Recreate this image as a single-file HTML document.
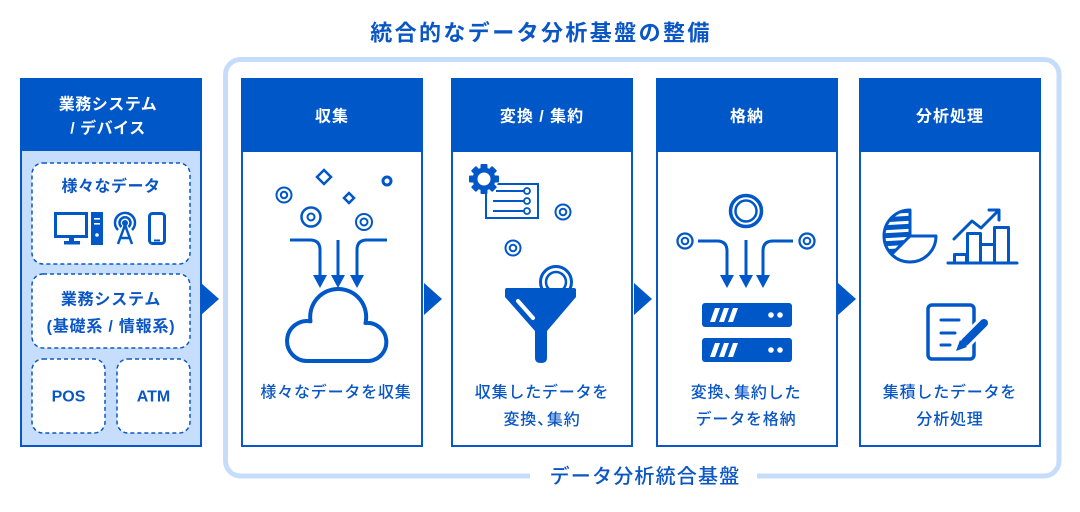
<!DOCTYPE html>
<html><head><meta charset="utf-8"><style>
html,body{margin:0;padding:0;background:#fff;}
svg{display:block;}
text{font-family:"Liberation Sans","Noto Sans CJK JP",sans-serif;}
</style></head><body>
<svg width="1080" height="512" viewBox="0 0 1080 512" xmlns="http://www.w3.org/2000/svg">
<defs>
<clipPath id="pieclip"><path d="M910,236 L910,210 A26,26 0 0 0 891.6,254.4 Z"/></clipPath>
</defs>
<rect width="1080" height="512" fill="#fff"/>

<!-- Title -->
<text x="541" y="33" text-anchor="middle" dominant-baseline="central" font-size="22" font-weight="bold" fill="#0a56c4" letter-spacing="2.4">統合的なデータ分析基盤の整備</text>

<!-- Outer light border -->
<rect x="225.5" y="59.5" width="833.5" height="416.5" rx="15" fill="none" stroke="#c5ddfb" stroke-width="5"/>
<rect x="530" y="468" width="227" height="16" fill="#fff"/>
<text x="645" y="477" text-anchor="middle" dominant-baseline="central" font-size="20" font-weight="500" fill="#0a56c4" letter-spacing="1.2">データ分析統合基盤</text>

<!-- Left panel -->
<rect x="21" y="79" width="180" height="367" fill="#c6ddfb" stroke="#0a58c8" stroke-width="2"/>
<rect x="20" y="78" width="182" height="73" fill="#0057c8"/>
<text x="108" y="105" text-anchor="middle" dominant-baseline="central" font-size="16" font-weight="bold" fill="#fff" letter-spacing="0.5">業務システム</text>
<text x="108" y="129" text-anchor="middle" dominant-baseline="central" font-size="16" font-weight="bold" fill="#fff" letter-spacing="0.5">/ デバイス</text>

<g fill="#fff" stroke="#0a58c8" stroke-width="1.5" stroke-dasharray="4 3">
<rect x="32" y="163" width="158" height="101" rx="11"/>
<rect x="32" y="274" width="158" height="74" rx="11"/>
<rect x="32" y="359" width="73" height="74" rx="11"/>
<rect x="117" y="359" width="73" height="74" rx="11"/>
</g>
<text x="111" y="187" text-anchor="middle" dominant-baseline="central" font-size="16" font-weight="bold" fill="#0a56c4" letter-spacing="0.5">様々なデータ</text>
<text x="111" y="300" text-anchor="middle" dominant-baseline="central" font-size="16" font-weight="bold" fill="#0a56c4" letter-spacing="0.8">業務システム</text>
<text x="111" y="327" text-anchor="middle" dominant-baseline="central" font-size="16" font-weight="bold" fill="#0a56c4" letter-spacing="0.8">(基礎系 / 情報系)</text>
<text x="68.5" y="397" text-anchor="middle" dominant-baseline="central" font-size="16" font-weight="bold" fill="#0a56c4">POS</text>
<text x="153.5" y="397" text-anchor="middle" dominant-baseline="central" font-size="16" font-weight="bold" fill="#0a56c4">ATM</text>

<!-- left icons -->
<g fill="none" stroke="#0057c8" stroke-width="3">
<rect x="55.5" y="213.5" width="31" height="23"/>
<rect x="149.5" y="213.5" width="15" height="30" rx="3"/>
</g>
<rect x="69" y="237" width="5" height="5" fill="#0057c8"/>
<rect x="64" y="241" width="16" height="3.5" fill="#0057c8"/>
<rect x="91" y="212" width="12" height="33" fill="#0057c8"/>
<rect x="94" y="218" width="6" height="1.6" fill="#fff"/>
<rect x="94" y="223" width="6" height="1.6" fill="#fff"/>
<circle cx="97" cy="235" r="1.8" fill="#fff"/>
<rect x="154" y="239.5" width="6" height="2" fill="#0057c8"/>
<g fill="none" stroke="#0057c8" stroke-width="2.5">
<path d="M118,230 A10,10 0 1 1 132,230"/>
<path d="M121.5,227 A5.5,5.5 0 1 1 128.5,227"/>
<path d="M125,225 L118,244 M125,225 L132,244 M120.5,238 H129.5"/>
</g>
<circle cx="125" cy="223" r="3" fill="#0057c8"/>

<!-- Columns -->
<g>
<rect x="242" y="79" width="180" height="367" fill="#fff" stroke="#0a58c8" stroke-width="2"/>
<rect x="241" y="78" width="182" height="74" fill="#0057c8"/>
<rect x="452" y="79" width="180" height="367" fill="#fff" stroke="#0a58c8" stroke-width="2"/>
<rect x="451" y="78" width="182" height="74" fill="#0057c8"/>
<rect x="657" y="79" width="180" height="367" fill="#fff" stroke="#0a58c8" stroke-width="2"/>
<rect x="656" y="78" width="182" height="74" fill="#0057c8"/>
<rect x="860" y="79" width="180" height="367" fill="#fff" stroke="#0a58c8" stroke-width="2"/>
<rect x="859" y="78" width="182" height="74" fill="#0057c8"/>
</g>
<g font-size="16" font-weight="bold" fill="#fff" text-anchor="middle" dominant-baseline="central" letter-spacing="1">
<text x="332" y="117">収集</text>
<text x="542" y="117">変換 / 集約</text>
<text x="747" y="117">格納</text>
<text x="950" y="117">分析処理</text>
</g>
<g font-size="16" font-weight="500" fill="#0a56c4" text-anchor="middle" dominant-baseline="central" letter-spacing="0.8">
<text x="336" y="393">様々なデータを収集</text>
<text x="542" y="393">収集したデータを</text>
<text x="542" y="420">変換、<tspan dx="-7">集約</tspan></text>
<text x="746" y="393">変換、<tspan dx="-7">集約した</tspan></text>
<text x="746" y="420">データを格納</text>
<text x="950" y="393">集積したデータを</text>
<text x="950" y="420">分析処理</text>
</g>

<!-- Arrows between -->
<g fill="#0057c8">
<polygon points="201,283 219,299 201,315"/>
<polygon points="424,283 442,299 424,315"/>
<polygon points="634,283 652,299 634,315"/>
<polygon points="838,283 856,299 838,315"/>
</g>

<!-- Col1 icons -->
<g fill="none" stroke="#0057c8" stroke-width="2.5">
<polygon points="324,170 331,177 324,184 317,177"/>
<polygon points="349,193 354,198 349,203 344,198"/>
<circle cx="387" cy="181" r="4" stroke-width="3"/>
<circle cx="284" cy="195" r="7.5" stroke-width="2"/>
<circle cx="284" cy="195" r="3.2" stroke-width="2"/>
<circle cx="311" cy="217" r="9.5"/>
<circle cx="311" cy="217" r="3.5" stroke-width="2"/>
<circle cx="364" cy="222" r="8" stroke-width="2"/>
<circle cx="364" cy="222" r="3.5" stroke-width="2"/>
<path d="M290,240 H310 Q320,240 320,250 V277" stroke-width="3"/>
<path d="M338,240 V277" stroke-width="3"/>
<path d="M387,240 H367 Q357,240 357,250 V277" stroke-width="3"/>
<path d="M307,361 A20,20 0 1 1 310.5,321.3 A28,28 0 1 1 365.5,323 A19,19 0 1 1 369,361 Z" stroke-width="4" stroke-linejoin="round"/>
</g>
<g fill="#0057c8">
<polygon points="313,275 327,275 320,288"/>
<polygon points="331,275 345,275 338,288"/>
<polygon points="350,275 364,275 357,288"/>
</g>

<!-- Col2 icons -->
<rect x="486" y="184" width="52" height="34" fill="#fff" stroke="#0057c8" stroke-width="2"/>
<g stroke="#0057c8" stroke-width="2">
<line x1="496" y1="191" x2="524" y2="191"/>
<line x1="493" y1="201" x2="524" y2="201"/>
<line x1="493" y1="211" x2="524" y2="211"/>
</g>
<g fill="#fff" stroke="#0057c8" stroke-width="1.8">
<circle cx="527" cy="191" r="3"/>
<circle cx="527" cy="201" r="3"/>
<circle cx="527" cy="211" r="3"/>
</g>
<g transform="translate(484,179)">
<circle r="14.5" fill="#fff"/>
<g fill="#0057c8">
<rect x="-3.5" y="-15" width="7" height="30" rx="1"/>
<rect x="-3.5" y="-15" width="7" height="30" rx="1" transform="rotate(45)"/>
<rect x="-3.5" y="-15" width="7" height="30" rx="1" transform="rotate(90)"/>
<rect x="-3.5" y="-15" width="7" height="30" rx="1" transform="rotate(135)"/>
<circle r="11.5"/>
</g>
<circle r="6.5" fill="#fff"/>
</g>
<g fill="none" stroke="#0057c8">
<circle cx="563" cy="212" r="7.5" stroke-width="2"/>
<circle cx="563" cy="212" r="3.3" stroke-width="2"/>
<circle cx="513" cy="248" r="7.5" stroke-width="2"/>
<circle cx="513" cy="248" r="3.3" stroke-width="2"/>
<circle cx="556" cy="282" r="15.5" stroke-width="3"/>
<circle cx="556" cy="282" r="10" stroke-width="2.5"/>
</g>
<path d="M505,290 Q505,288 507,288 H574 Q576,288 576,290 V297 L547,331 V358 Q547,363 541,363 Q535,363 535,358 V331 L505,297 Z" fill="#0057c8"/>
<line x1="518" y1="301" x2="533" y2="318" stroke="#fff" stroke-width="4" stroke-linecap="round"/>

<!-- Col3 icons -->
<g fill="none" stroke="#0057c8">
<circle cx="746" cy="211" r="15.5" stroke-width="3.5"/>
<circle cx="746" cy="211" r="10.5" stroke-width="2.5"/>
<circle cx="685" cy="241" r="7.5" stroke-width="2.3"/>
<circle cx="685" cy="241" r="3.3" stroke-width="2"/>
<circle cx="807" cy="241" r="7.5" stroke-width="2.3"/>
<circle cx="807" cy="241" r="3.3" stroke-width="2"/>
<path d="M698,241 H717 Q727,241 727,251 V277" stroke-width="3"/>
<path d="M746,240 V277" stroke-width="3"/>
<path d="M793,241 H773 Q763,241 763,251 V277" stroke-width="3"/>
</g>
<g fill="#0057c8">
<polygon points="720,275 734,275 727,288"/>
<polygon points="739,275 753,275 746,288"/>
<polygon points="756,275 770,275 763,288"/>
<rect x="702" y="303" width="90" height="24" rx="3"/>
<rect x="702" y="338" width="90" height="24" rx="3"/>
</g>
<g fill="#fff">
<polygon points="710,322 715,322 720,308 715,308"/>
<polygon points="719,322 724,322 729,308 724,308"/>
<polygon points="728,322 733,322 738,308 733,308"/>
<circle cx="771" cy="315" r="2.8"/>
<circle cx="780" cy="315" r="2.8"/>
<polygon points="710,357 715,357 720,343 715,343"/>
<polygon points="719,357 724,357 729,343 724,343"/>
<polygon points="728,357 733,357 738,343 733,343"/>
<circle cx="771" cy="350" r="2.8"/>
<circle cx="780" cy="350" r="2.8"/>
</g>

<!-- Col4 icons -->
<path d="M910,236 L910,210 A26,26 0 0 0 891.6,254.4 Z" fill="#0057c8"/>
<g clip-path="url(#pieclip)" stroke="#fff" stroke-width="3">
<line x1="880" y1="216" x2="915" y2="214"/>
<line x1="880" y1="224" x2="915" y2="222"/>
<line x1="880" y1="232" x2="915" y2="230"/>
<line x1="880" y1="240" x2="915" y2="238"/>
<line x1="880" y1="248" x2="915" y2="246"/>
<line x1="880" y1="256" x2="915" y2="254"/>
</g>
<path d="M910,236 L910,210 A26,26 0 1 0 936,236 Z M910,236 L891.6,254.4" fill="none" stroke="#0057c8" stroke-width="3" stroke-linejoin="round"/>
<g fill="none" stroke="#0057c8" stroke-width="3" stroke-linejoin="round" stroke-linecap="round">
<line x1="948" y1="263" x2="1017" y2="263"/>
<rect x="954.5" y="254.5" width="12" height="8.5"/>
<rect x="967.5" y="233.5" width="13" height="29.5"/>
<rect x="980.5" y="244.5" width="14" height="18.5"/>
<rect x="994.5" y="227.5" width="14" height="35.5"/>
<path d="M954,239 L972,221 L981,228 L998,211"/>
<path d="M989,210 H999 V220"/>
<rect x="928" y="305" width="46" height="54" rx="4" stroke-width="3.5"/>
<line x1="941" y1="320" x2="959" y2="320"/>
<line x1="941" y1="333" x2="955" y2="333"/>
<line x1="941" y1="345" x2="950" y2="345"/>
</g>
<line x1="984" y1="323" x2="964" y2="343" stroke="#fff" stroke-width="14"/>
<line x1="984" y1="323" x2="965" y2="342" stroke="#0057c8" stroke-width="8" stroke-linecap="round"/>
<polygon points="960,340 967,347 956,351" fill="#0057c8"/>
</svg>
</body></html>
